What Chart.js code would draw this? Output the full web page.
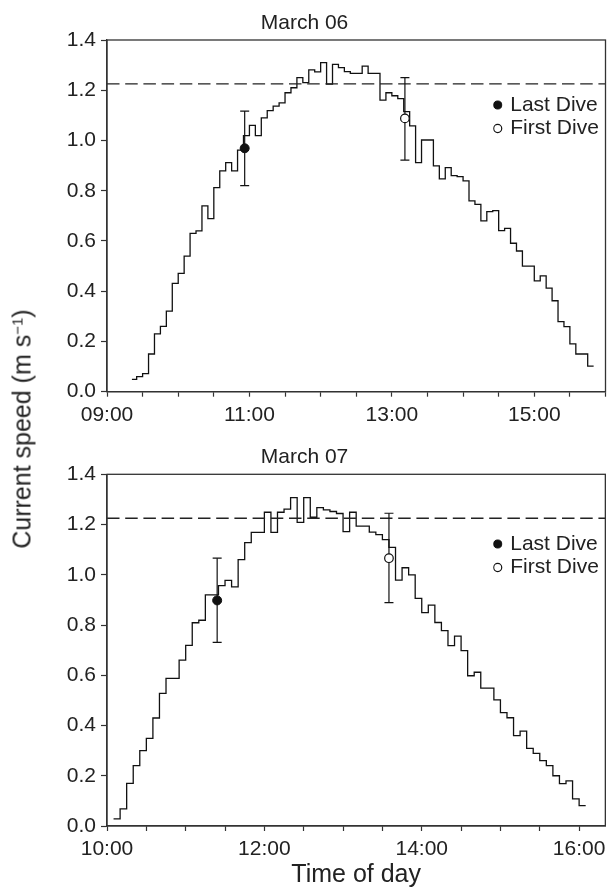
<!DOCTYPE html>
<html><head><meta charset="utf-8">
<script src="https://cdn.jsdelivr.net/npm/chart.js@4.4.1/dist/chart.umd.min.js"></script>
<style>
html,body{margin:0;padding:0;background:#fff;}
#wrap{position:relative;width:611px;height:888px;overflow:hidden;background:#fff;}
canvas{display:block;position:absolute;left:0;}
#c1{top:0;}
#c2{top:430px;}
#ytitle{position:absolute;left:21.5px;top:429px;transform:translate(-50%,-50%) rotate(-90deg);
  font-family:'Liberation Sans',Arial,Helvetica,sans-serif;font-size:25px;line-height:25px;white-space:nowrap;color:#222;}
#ytitle sup{font-size:0.6em;line-height:0;vertical-align:0.55em;}
</style></head><body>
<div id="wrap">
<canvas id="c1" width="611" height="430"></canvas>
<canvas id="c2" width="611" height="458"></canvas>
<div id="ytitle">Current speed (m s<sup>−1</sup>)</div>
</div>
<script>
// ---------- data ----------
const panelTitles = ['March 06', 'March 07'];
const legendLabels = ['Last Dive', 'First Dive'];
const xAxisTitle = 'Time of day';
const thresholdSpeed = 1.225;

const mar06Range = ['09:00', '16:00'];
const mar06TickLabels = ['09:00', '11:00', '13:00', '15:00'];
const mar06Times = ['09:21','09:25','09:30','09:35','09:40','09:45','09:50','09:55',
 '10:00','10:05','10:10','10:15','10:20','10:25','10:30','10:35','10:40','10:45','10:50','10:55',
 '11:00','11:05','11:10','11:15','11:20','11:25','11:30','11:35','11:40','11:45','11:50','11:55',
 '12:00','12:05','12:10','12:15','12:20','12:25','12:30','12:35','12:40','12:45','12:50','12:55',
 '13:00','13:05','13:10','13:15','13:20','13:25','13:30','13:35','13:40','13:45','13:50','13:55',
 '14:00','14:05','14:10','14:15','14:20','14:25','14:30','14:35','14:40','14:45','14:50','14:55',
 '15:00','15:05','15:10','15:15','15:20','15:25','15:30','15:35','15:40','15:45','15:50'];
const mar06Speed = [0.049,0.060,0.072,0.150,0.230,0.260,0.321,0.431,
 0.471,0.540,0.630,0.640,0.740,0.689,0.812,0.879,0.912,0.879,0.962,1.019,
 1.060,1.019,1.090,1.119,1.137,1.150,1.190,1.210,1.250,1.230,1.281,1.273,
 1.310,1.224,1.303,1.290,1.274,1.267,1.267,1.296,1.267,1.267,1.161,1.190,
 1.178,1.167,1.115,1.058,0.912,1.002,1.002,0.899,0.847,0.892,0.860,0.856,
 0.839,0.760,0.746,0.680,0.717,0.721,0.641,0.650,0.591,0.560,0.500,0.500,
 0.441,0.461,0.412,0.362,0.279,0.259,0.190,0.150,0.150,0.102,0.102];
const mar06DiveTimes = ['10:56', '13:11'];
const mar06DiveMean = [0.969, 1.088];
const mar06DiveLow = [0.820, 0.922];
const mar06DiveHigh = [1.117, 1.250];

const mar07Range = ['10:00', '16:20'];
const mar07TickLabels = ['10:00', '12:00', '14:00', '16:00'];
const mar07Times = ['10:05','10:10','10:15','10:20','10:25','10:30','10:35','10:40','10:45','10:50','10:55',
 '11:00','11:05','11:10','11:15','11:20','11:25','11:30','11:35','11:40','11:45','11:50','11:55',
 '12:00','12:05','12:10','12:15','12:20','12:25','12:30','12:35','12:40','12:45','12:50','12:55',
 '13:00','13:05','13:10','13:15','13:20','13:25','13:30','13:35','13:40','13:45','13:50','13:55',
 '14:00','14:05','14:10','14:15','14:20','14:25','14:30','14:35','14:40','14:45','14:50','14:55',
 '15:00','15:05','15:10','15:15','15:20','15:25','15:30','15:35','15:40','15:45','15:50','15:55',
 '16:00','16:05'];
const mar07Speed = [0.028,0.068,0.170,0.240,0.300,0.349,0.430,0.528,0.588,0.588,0.660,
 0.719,0.809,0.819,0.920,0.920,0.957,0.978,0.952,1.060,1.128,1.169,1.169,
 1.249,1.169,1.249,1.261,1.307,1.209,1.307,1.229,1.267,1.258,1.252,1.244,
 1.172,1.249,1.194,1.194,1.170,1.160,1.140,1.109,0.979,1.028,1.000,0.906,
 0.849,0.879,0.810,0.778,0.718,0.756,0.698,0.598,0.612,0.549,0.549,0.502,
 0.451,0.431,0.360,0.378,0.309,0.289,0.260,0.240,0.200,0.169,0.180,0.108,
 0.081,0.081];
const mar07DiveTimes = ['11:24', '13:35'];
const mar07DiveMean = [0.898, 1.066];
const mar07DiveLow = [0.731, 0.889];
const mar07DiveHigh = [1.066, 1.245];

// ---------- helpers ----------
const FONT = "'Liberation Sans', Arial, Helvetica, sans-serif";
Chart.defaults.font.family = FONT;
Chart.defaults.color = '#222';

function toMin(s) { const p = s.split(':'); return (+p[0]) * 60 + (+p[1]); }
function fmt(v) {
  const h = Math.floor(v / 60), m = Math.round(v - h * 60);
  return String(h).padStart(2, '0') + ':' + String(m).padStart(2, '0');
}

const framePlugin = {
  id: 'frame',
  afterDraw(chart, args, opts) {
    const a = chart.chartArea, ctx = chart.ctx;
    ctx.save();
    ctx.strokeStyle = opts.color || '#333';
    ctx.lineWidth = opts.width || 1.3;
    ctx.strokeRect(a.left, a.top, a.right - a.left, a.bottom - a.top);
    ctx.restore();
  }
};
const legendPlacer = {
  id: 'legendPlacer',
  afterLayout(chart, args, opts) {
    const lg = chart.legend;
    if (!lg) return;
    lg.left = opts.x; lg.top = opts.y; lg.width = opts.w; lg.height = opts.h;
    lg.right = opts.x + opts.w; lg.bottom = opts.y + opts.h;
  }
};

function buildPanel(canvasId, title, times, speed, range, tickLabels,
                    diveTimes, diveMean, diveLow, diveHigh, L) {
  const xmin = toMin(range[0]), xmax = toMin(range[1]);
  const speedPts = times.map((t, i) => ({x: toMin(t), y: speed[i]}));
  const datasets = [
    {label: legendLabels[0], data: [{x: toMin(diveTimes[0]), y: diveMean[0]}], showLine: false,
     pointStyle: 'circle', pointRadius: 4.5, backgroundColor: '#111', borderColor: '#111', borderWidth: 1},
    {label: legendLabels[1], data: [{x: toMin(diveTimes[1]), y: diveMean[1]}], showLine: false,
     pointStyle: 'circle', pointRadius: 4.3, backgroundColor: '#fff', borderColor: '#111', borderWidth: 1.2},
    {label: 'Last Dive range', data: [{x: toMin(diveTimes[0]), y: diveLow[0]}, {x: toMin(diveTimes[0]), y: diveHigh[0]}],
     showLine: true, borderColor: '#111', borderWidth: 1.2, backgroundColor: '#111',
     pointStyle: 'line', pointRadius: 4.5, pointBorderColor: '#111', pointBorderWidth: 1.2},
    {label: 'First Dive range', data: [{x: toMin(diveTimes[1]), y: diveLow[1]}, {x: toMin(diveTimes[1]), y: diveHigh[1]}],
     showLine: true, borderColor: '#111', borderWidth: 1.2, backgroundColor: '#111',
     pointStyle: 'line', pointRadius: 4.5, pointBorderColor: '#111', pointBorderWidth: 1.2},
    {label: 'Threshold', data: [{x: xmin, y: thresholdSpeed}, {x: xmax, y: thresholdSpeed}],
     borderColor: '#222', borderWidth: 1.3, borderDash: [12.5, 5.7], pointRadius: 0},
    {label: 'Current speed', data: speedPts, stepped: true, borderColor: '#111',
     borderWidth: 1.3, pointRadius: 0, fill: false}
  ];
  return new Chart(document.getElementById(canvasId), {
    type: 'line',
    data: {datasets},
    plugins: [framePlugin, legendPlacer],
    options: {
      responsive: false, animation: false, devicePixelRatio: 1, events: [],
      layout: {autoPadding: false, padding: {left: 0, right: 2, top: 0, bottom: 0}},
      plugins: {
        title: {display: true, text: title, color: '#222',
                font: {size: 21, weight: 'normal', lineHeight: 1.2},
                padding: {top: L.titleTop, bottom: L.titleBottom}},
        legend: {display: true, position: 'chartArea', align: 'start',
                 labels: {usePointStyle: true, boxWidth: 4, boxHeight: 5.7, padding: 2.5,
                          color: '#222', font: {size: 21},
                          filter: (item) => legendLabels.includes(item.text)}},
        tooltip: {enabled: false},
        legendPlacer: {x: L.legX, y: L.legY, w: 115, h: 70},
        frame: {color: '#333', width: 1.3}
      },
      scales: {
        x: {type: 'linear', position: 'bottom', min: xmin, max: xmax,
            afterFit: (s) => { s.height = L.xAxisH; },
            ticks: {stepSize: 30, autoSkip: false, includeBounds: false, maxRotation: 0, minRotation: 0,
                    padding: 5.5, color: '#222', font: {size: 21},
                    callback: (v) => tickLabels.includes(fmt(v)) ? fmt(v) : ''},
            grid: {display: true, drawOnChartArea: false, drawTicks: true, tickLength: 5,
                   color: '#333', tickWidth: 1.2},
            border: {display: true, color: '#333', width: 1.3},
            title: L.showXTitle ? {display: true, text: xAxisTitle, color: '#222',
                    font: {size: 25, lineHeight: 1}, padding: {top: 0, bottom: 0.5}} : {display: false}},
        y: {min: 0, max: 1.4,
            afterFit: (s) => { s.width = 107; },
            ticks: {stepSize: 0.2, padding: 5, color: '#222', font: {size: 21},
                    callback: (v) => Number(v).toFixed(1)},
            grid: {display: true, drawOnChartArea: false, drawTicks: true, tickLength: 6,
                   color: '#333', tickWidth: 1.2},
            border: {display: true, color: '#333', width: 1.3}}
      }
    }
  });
}

buildPanel('c1', panelTitles[0], mar06Times, mar06Speed, mar06Range, mar06TickLabels,
  mar06DiveTimes, mar06DiveMean, mar06DiveLow, mar06DiveHigh,
  {titleTop: 10.4, titleBottom: 4.4, xAxisH: 38.3, legX: 493.2, legY: 92, showXTitle: false});
buildPanel('c2', panelTitles[1], mar07Times, mar07Speed, mar07Range, mar07TickLabels,
  mar07DiveTimes, mar07DiveMean, mar07DiveLow, mar07DiveHigh,
  {titleTop: 14.4, titleBottom: 4.7, xAxisH: 62, legX: 493.2, legY: 101, showXTitle: true});
</script>
</body></html>
